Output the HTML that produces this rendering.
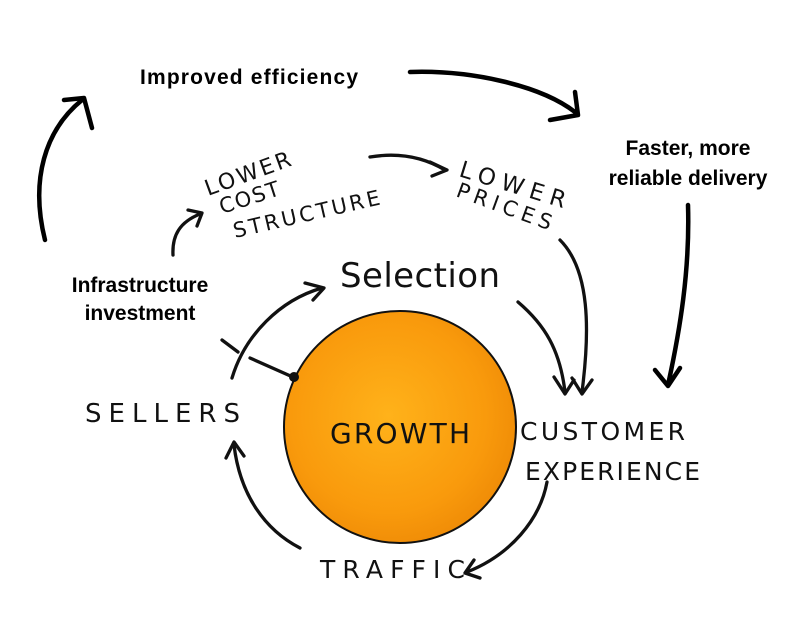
<!DOCTYPE html>
<html><head><meta charset="utf-8"><style>
html,body{margin:0;padding:0;background:#fff;}
svg{display:block}
.b{font-family:"Liberation Sans",sans-serif;font-weight:bold;font-size:21px;fill:#000}
.h{font-family:"DejaVu Sans","Liberation Sans",sans-serif;fill:#111}
</style></head><body>
<svg width="800" height="630" viewBox="0 0 800 630" xmlns="http://www.w3.org/2000/svg">
<defs>
<radialGradient id="g" cx="0.45" cy="0.45" r="0.6">
<stop offset="0" stop-color="#ffb21a"/><stop offset="0.7" stop-color="#f99a0c"/><stop offset="1" stop-color="#ee8a06"/>
</radialGradient>
</defs>
<circle cx="400" cy="427" r="116" fill="url(#g)" stroke="#111" stroke-width="2"/>
<g fill="none" stroke="#000" stroke-width="4.5" stroke-linecap="round" stroke-linejoin="round">
<path d="M45 240 C30 180 45 130 82 100"/><path d="M64 100 L84 98 L92 128"/>
<path d="M410 72 C470 70 540 85 575 112"/><path d="M550 120 L578 115 L575 92"/>
<path d="M688 205 C690 270 680 330 668 385"/><path d="M655 370 L668 386 L680 368"/>
</g>
<g fill="none" stroke="#111" stroke-width="3.3" stroke-linecap="round" stroke-linejoin="round">
<path d="M173 255 C172 235 180 222 200 214"/><path d="M188 210 L202 213 L197 226"/>
<path d="M370 157 C400 152 425 158 445 170"/><path d="M430 162 L447 170 L432 176"/>
<path d="M560 240 C590 270 590 330 582 392"/><path d="M572 378 L582 394 L592 380"/>
<path d="M518 302 C545 325 560 350 565 392"/><path d="M554 377 L565 394 L574 380"/>
<path d="M232 378 C245 335 280 300 322 288"/><path d="M305 283 L324 288 L313 300"/>
<path d="M547 482 C540 520 510 555 467 572"/><path d="M474 560 L465 573 L480 578"/>
<path d="M300 548 C265 530 240 495 234 445"/><path d="M226 458 L234 442 L244 456"/>
<path d="M222 340 L238 352"/><path d="M250 358 L295 378"/>
</g>
<circle cx="294" cy="377" r="5" fill="#111"/>
<text class="b" x="140" y="84" textLength="218">Improved efficiency</text>
<text class="b" x="688" y="155" text-anchor="middle">Faster, more</text>
<text class="b" x="688" y="185" text-anchor="middle">reliable delivery</text>
<text class="b" x="140" y="292" text-anchor="middle">Infrastructure</text>
<text class="b" x="140" y="320" text-anchor="middle">investment</text>
<g class="h">
<text x="208" y="196" font-size="22" textLength="90" transform="rotate(-20 208 196)">LOWER</text>
<text x="222" y="214" font-size="21" textLength="62" transform="rotate(-18 222 214)">COST</text>
<text x="235" y="238" font-size="21" textLength="150" transform="rotate(-13 235 238)">STRUCTURE</text>
<text x="458" y="176" font-size="23" textLength="110" transform="rotate(17 458 176)">LOWER</text>
<text x="455" y="196" font-size="21" textLength="100" transform="rotate(20 455 196)">PRICES</text>
<text x="340" y="287" font-size="34" textLength="160">Selection</text>
<text x="85" y="422" font-size="26" textLength="155">SELLERS</text>
<text x="330" y="443" font-size="28" textLength="140">GROWTH</text>
<text x="520" y="440" font-size="25" textLength="165">CUSTOMER</text>
<text x="525" y="480" font-size="25" textLength="175">EXPERIENCE</text>
<text x="320" y="578" font-size="25" textLength="145">TRAFFIC</text>
</g>
</svg>
</body></html>
